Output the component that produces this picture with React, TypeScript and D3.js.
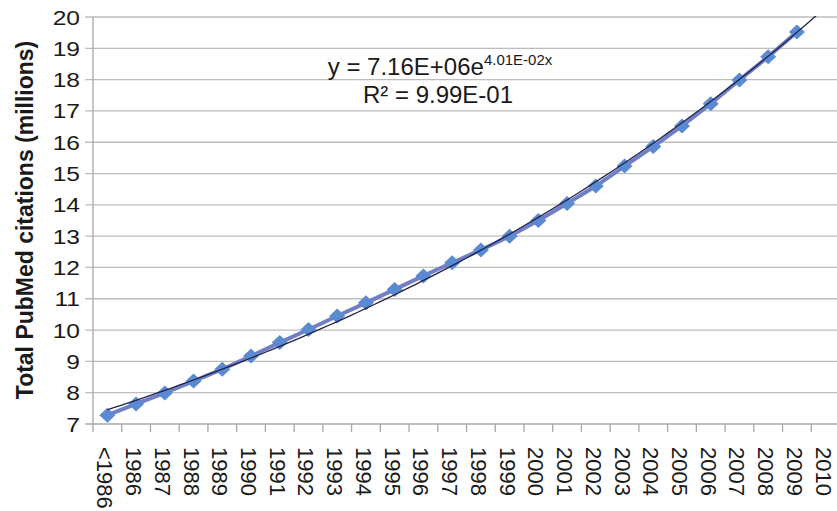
import React, { useEffect, useRef } from 'react';
import * as d3 from 'd3';

// categories on the x axis
const years = ['<1986', '1986', '1987', '1988', '1989', '1990', '1991', '1992', '1993', '1994', '1995', '1996', '1997',
  '1998', '1999', '2000', '2001', '2002', '2003', '2004', '2005', '2006', '2007', '2008', '2009', '2010'];

// total citations in millions (2010 has no point)
const citations = [7.28, 7.64, 7.99, 8.37, 8.75, 9.17, 9.6, 10.02, 10.45, 10.87, 11.3, 11.73, 12.15,
  12.56, 13.0, 13.5, 14.04, 14.6, 15.24, 15.86, 16.52, 17.23, 17.99, 18.73, 19.52];

const yTicks = [7, 8, 9, 10, 11, 12, 13, 14, 15, 16, 17, 18, 19, 20];

// exponential trendline from the chart label: y = a * e^(b x), x = 1..n
const trendA = 7.16;
const trendB = 0.0401;

const App: React.FC = () => {
  const svgRef = useRef<SVGSVGElement>(null);

  useEffect(() => {
    if (!svgRef.current) return;
    const svg = d3.select(svgRef.current);
    svg.selectAll('*').remove();

    const W = 837, H = 511;
    const left = 93, top = 17, bottom = 424, right = 840;
    const font = 'Arial, "Liberation Sans", sans-serif';
    const ink = '#1a1a1a';

    const x = d3.scaleBand<string>().domain(years).range([left, right]);
    const y = d3.scaleLinear().domain([7, 20]).range([bottom, top]);
    const cx = (i: number) => (x(years[i]) as number) + x.bandwidth() / 2;

    svg.append('rect').attr('width', W).attr('height', H).attr('fill', '#fff');

    svg.append('defs').append('clipPath').attr('id', 'plotclip')
      .append('rect').attr('x', left).attr('y', top - 1).attr('width', right - left).attr('height', bottom - top + 1);

    // gridlines + y ticks
    const gy = svg.append('g');
    yTicks.forEach(t => {
      gy.append('line')
        .attr('x1', 85).attr('x2', W).attr('y1', y(t)).attr('y2', y(t))
        .attr('stroke', t === 7 ? '#a8a8a8' : '#bdbdbd').attr('stroke-width', 1.3);
      gy.append('text')
        .attr('transform', `translate(80,${y(t)}) scale(1.17,1)`)
        .attr('dy', '0.36em')
        .attr('text-anchor', 'end')
        .attr('font-family', font).attr('font-size', 21).attr('fill', ink)
        .text(t);
    });

    // y axis line
    svg.append('line').attr('x1', left).attr('x2', left).attr('y1', top).attr('y2', bottom + 8)
      .attr('stroke', '#a8a8a8').attr('stroke-width', 1.3);

    // x ticks (between categories) and rotated labels
    years.forEach((yr, i) => {
      const xp = x(yr) as number;
      if (i > 0) svg.append('line').attr('x1', xp).attr('x2', xp).attr('y1', bottom).attr('y2', bottom + 8)
        .attr('stroke', '#a8a8a8').attr('stroke-width', 1.3);
      svg.append('text')
        .attr('transform', `translate(${cx(i) - 10},447) rotate(90)`)
        .attr('text-anchor', 'start')
        .attr('font-family', font).attr('font-size', 22).attr('fill', ink)
        .text(yr);
    });

    // y axis title
    svg.append('text')
      .attr('transform', `translate(33,220) scale(1.08,1) rotate(-90)`)
      .attr('text-anchor', 'middle')
      .attr('font-family', font).attr('font-size', 23).attr('font-weight', 'bold').attr('fill', ink)
      .text('Total PubMed citations (millions)');

    const plot = svg.append('g').attr('clip-path', 'url(#plotclip)');

    // data line
    const line = d3.line<number>().x((_, i) => cx(i)).y(d => y(d));
    plot.append('path').datum(citations)
      .attr('d', line)
      .attr('fill', 'none').attr('stroke', '#7180c6').attr('stroke-width', 4);

    // diamond markers
    const dw = 8, dh = 7.5;
    plot.selectAll('path.mk').data(citations).enter().append('path')
      .attr('class', 'mk')
      .attr('d', `M0,${-dh}L${dw},0L0,${dh}L${-dw},0Z`)
      .attr('transform', (d, i) => `translate(${cx(i)},${y(d)})`)
      .attr('fill', '#5a8bd2');

    // trendline
    const trendX = d3.range(0, years.length - 1 + 0.001, 0.25);
    const trend = d3.line<number>()
      .x(t => cx(0) + t * x.step())
      .y(t => y(trendA * Math.exp(trendB * (t + 1))))
      .curve(d3.curveMonotoneX);
    plot.append('path').datum(trendX)
      .attr('d', trend)
      .attr('fill', 'none').attr('stroke', '#23234a').attr('stroke-width', 1.3);

    // equation label
    const eq = svg.append('text')
      .attr('x', 440).attr('y', 75).attr('text-anchor', 'middle')
      .attr('font-family', font).attr('font-size', 24).attr('fill', ink);
    eq.append('tspan').text('y = 7.16E+06e');
    eq.append('tspan').attr('font-size', 15).attr('dy', -10).text('4.01E-02x');
    svg.append('text')
      .attr('x', 438).attr('y', 103).attr('text-anchor', 'middle')
      .attr('font-family', font).attr('font-size', 24).attr('fill', ink)
      .text('R² = 9.99E-01');
  }, []);

  return (
    <div style={{ position: 'absolute', left: 0, top: 0 }}>
      <svg ref={svgRef} width={837} height={511} style={{ display: 'block' }} />
    </div>
  );
};

export default App;
